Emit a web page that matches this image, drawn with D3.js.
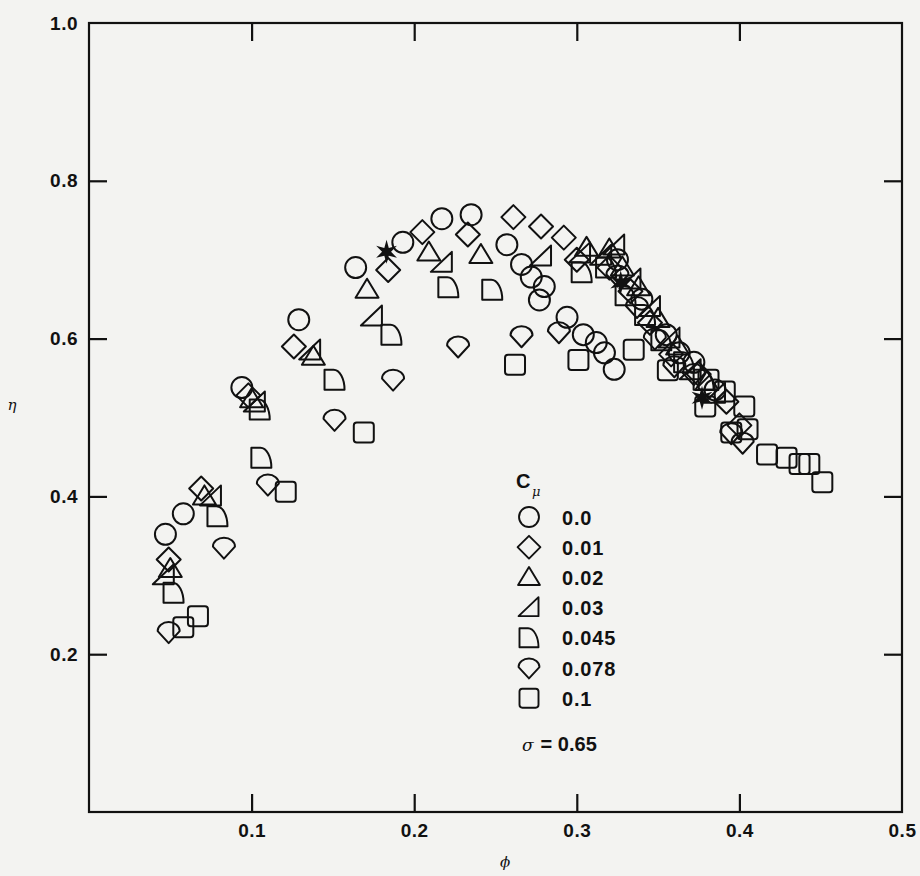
<!DOCTYPE html>
<html>
<head>
<meta charset="utf-8">
<script src="https://cdn.jsdelivr.net/npm/d3@7"></script>
<style>
  body { margin: 0; background: #f3f3f1; }
  text { fill: #111; }
</style>
</head>
<body>
<div id="chart"></div>
<script>
// data: [phi, eta]
var cmu00 = [[.047,.352],[.058,.378],[.094,.538],[.129,.624],[.164,.690],[.193,.722],[.217,.752],[.235,.757],
  [.257,.719],[.266,.694],[.272,.678],[.280,.666],[.277,.649],[.294,.627],[.304,.605],[.312,.595],[.317,.582],[.323,.561],
  [.325,.700],[.340,.650],[.355,.605],[.363,.582],[.372,.570],[.385,.535]]
var cmu01 = [[.049,.320],[.069,.410],[.098,.528],[.126,.590],[.184,.687],[.205,.735],[.233,.732],[.261,.754],
  [.278,.742],[.292,.728],[.300,.700],[.320,.690],[.333,.660],[.345,.620],[.358,.580],[.375,.555],[.392,.520],[.400,.490]]
var cmu02 = [[.050,.308],[.071,.400],[.100,.523],[.138,.577],[.171,.662],[.209,.709],[.241,.706],
  [.306,.715],[.320,.713],[.328,.690],[.338,.665],[.350,.625],[.362,.590],[.380,.545]]
var cmu03 = [[.046,.300],[.075,.400],[.102,.519],[.136,.585],[.174,.628],[.217,.696],[.278,.704],
  [.302,.708],[.315,.705],[.323,.718],[.333,.675],[.345,.640],[.357,.600],[.370,.560],[.385,.530]]
var cmu045 = [[.052,.278],[.079,.375],[.105,.510],[.106,.449],[.151,.548],[.186,.605],[.221,.665],[.248,.662],
  [.303,.684],[.318,.690],[.330,.655],[.342,.630],[.352,.598],[.366,.570],[.378,.548]]
var cmu078 = [[.049,.228],[.083,.335],[.110,.415],[.151,.497],[.187,.548],[.227,.590],[.266,.603],[.289,.608],
  [.325,.680],[.337,.640],[.348,.600],[.360,.565],[.372,.555],[.395,.480],[.402,.468]]
var cmu10 = [[.058,.234],[.067,.248],[.121,.406],[.169,.481],[.262,.567],[.301,.573],
  [.335,.586],[.356,.560],[.381,.548],[.391,.533],[.403,.514],[.379,.514],[.395,.481],[.405,.485],
  [.417,.453],[.429,.449],[.437,.441],[.443,.441],[.451,.418]]
var stars = [[.183,.710],[.327,.671],[.377,.525]]

var legendLabels = ["0.0", "0.01", "0.02", "0.03", "0.045", "0.078", "0.1"]
var xTicks = [0.1, 0.2, 0.3, 0.4, 0.5]
var yTicks = [0.2, 0.4, 0.6, 0.8, 1.0]

// marker outlines, centred on 0,0
var shapes = [
  "M-10.5,0A10.5,10.5 0 1 1 10.5,0A10.5,10.5 0 1 1 -10.5,0Z",
  "M0,-12L12,0L0,12L-12,0Z",
  "M0,-11L11.5,8L-11.5,8Z",
  "M-11,9L10,9L10,-11Z",
  "M-10,10V-10H-1A11,20 0 0 1 10,10Z",
  "M-11,-1A11,9 0 0 1 11,-1L0,11Z",
  "M-7,-10H7Q10,-10 10,-7V7Q10,10 7,10H-7Q-10,10 -10,7V-7Q-10,-10 -7,-10Z"
]
var series = [cmu00, cmu01, cmu02, cmu03, cmu045, cmu078, cmu10]

var width = 920, height = 876

var svg = d3.select("#chart").append("svg")
    .attr("width", width)
    .attr("height", height)

var x = d3.scaleLinear().domain([0, 0.5]).range([89, 902])
var y = d3.scaleLinear().domain([0, 1]).range([812, 23])

// frame
svg.append("rect")
    .attr("x", x(0)).attr("y", y(1))
    .attr("width", x(0.5) - x(0)).attr("height", y(0) - y(1))
    .attr("fill", "none").attr("stroke", "#111").attr("stroke-width", 2.2)

function styleAxis(g) {
    g.select(".domain").remove()
    g.selectAll(".tick line").attr("stroke", "#111").attr("stroke-width", 2.2)
    g.selectAll(".tick text")
        .style("font-family", "Liberation Sans, Arial, sans-serif")
        .style("font-weight", "bold")
        .style("font-size", "19px")
        .style("letter-spacing", "0.5px")
        .attr("fill", "#111")
}

svg.append("g")
    .attr("transform", "translate(0," + y(0) + ")")
    .call(d3.axisBottom(x).tickValues(xTicks).tickFormat(d3.format(".1f")).tickSizeInner(-18).tickSizeOuter(0).tickPadding(12))
    .call(styleAxis)
    .selectAll(".tick line").filter(function (d) { return d === 0.5 }).remove()

svg.append("g")
    .attr("transform", "translate(0," + y(1) + ")")
    .call(d3.axisTop(x).tickValues([0.1, 0.2, 0.3, 0.4]).tickFormat("").tickSizeInner(-18).tickSizeOuter(0))
    .call(styleAxis)

svg.append("g")
    .attr("transform", "translate(" + x(0) + ",0)")
    .call(d3.axisLeft(y).tickValues(yTicks).tickFormat(d3.format(".1f")).tickSizeInner(-18).tickSizeOuter(0).tickPadding(11))
    .call(styleAxis)
    .selectAll(".tick line").filter(function (d) { return d === 1.0 }).remove()

svg.append("g")
    .attr("transform", "translate(" + x(0.5) + ",0)")
    .call(d3.axisRight(y).tickValues([0.2, 0.4, 0.6, 0.8]).tickFormat("").tickSizeInner(-18).tickSizeOuter(0))
    .call(styleAxis)

// axis titles
svg.append("text").attr("x", 505).attr("y", 867)
    .attr("text-anchor", "middle")
    .style("font-family", "DejaVu Serif, serif").style("font-style", "italic").style("font-size", "15px")
    .text("\u03d5")
svg.append("text").attr("x", 12).attr("y", 410)
    .attr("text-anchor", "middle")
    .style("font-family", "DejaVu Serif, serif").style("font-style", "italic").style("font-size", "15px")
    .text("\u03b7")

// points
series.forEach(function (data, i) {
    svg.append("g").selectAll("path")
        .data(data)
        .enter()
        .append("path")
        .attr("d", shapes[i])
        .attr("transform", function (d) { return "translate(" + x(d[0]) + "," + y(d[1]) + ")" })
        .attr("fill", "none")
        .attr("stroke", "#111")
        .attr("stroke-width", 2)
        .attr("stroke-linejoin", "round")
})

// six point asterisk star
var starPath = ""
for (var k = 0; k < 12; k++) {
    var r = k % 2 === 0 ? 12 : 4.5
    var a = Math.PI / 6 * k - Math.PI / 2
    starPath += (k === 0 ? "M" : "L") + (r * Math.cos(a)).toFixed(2) + "," + (r * Math.sin(a)).toFixed(2)
}
starPath += "Z"
svg.append("g").selectAll("path")
    .data(stars)
    .enter()
    .append("path")
    .attr("d", starPath)
    .attr("transform", function (d) { return "translate(" + x(d[0]) + "," + y(d[1]) + ")" })
    .attr("fill", "#111")

// legend
var leg = svg.append("g")
var legFont = "Liberation Sans, Arial, sans-serif"
leg.append("text").attr("x", 516).attr("y", 488)
    .style("font-family", legFont).style("font-weight", "bold").style("font-size", "20px")
    .text("C")
leg.append("text").attr("x", 532).attr("y", 496)
    .style("font-family", "DejaVu Serif, serif").style("font-style", "italic").style("font-size", "13px")
    .text("\u03bc")

legendLabels.forEach(function (lab, i) {
    var cy = 517 + i * 30.2
    leg.append("path")
        .attr("d", shapes[i])
        .attr("transform", "translate(529," + cy + ") scale(0.95)")
        .attr("fill", "none").attr("stroke", "#111").attr("stroke-width", 2)
        .attr("stroke-linejoin", "round")
    leg.append("text")
        .attr("x", 562).attr("y", cy + 7.5)
        .style("font-family", legFont).style("font-weight", "bold").style("font-size", "20px")
        .style("letter-spacing", "0.8px")
        .text(lab)
})

var sig = leg.append("text").attr("x", 522).attr("y", 751)
    .style("font-family", legFont).style("font-weight", "bold").style("font-size", "20px")
sig.append("tspan").style("font-family", "DejaVu Serif, serif").style("font-style", "italic")
    .style("font-weight", "normal").style("font-size", "17px").text("\u03c3")
sig.append("tspan").attr("dx", 7).text("= 0.65")
</script>
</body>
</html>
